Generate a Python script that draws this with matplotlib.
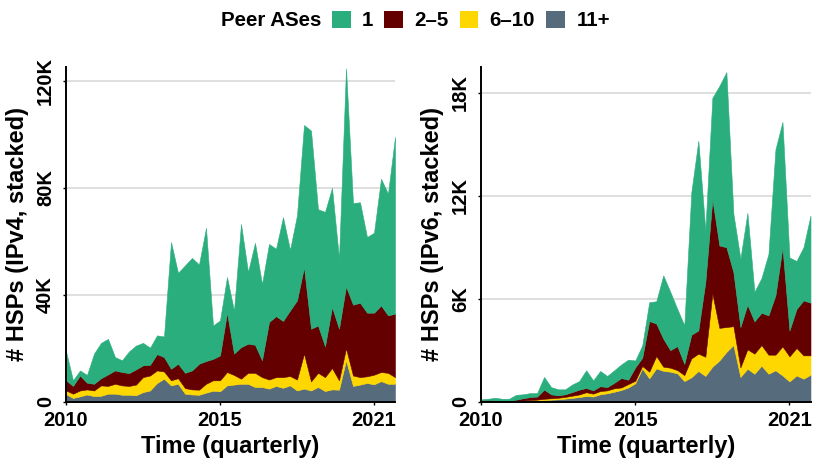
import matplotlib
matplotlib.use("Agg")
import matplotlib.pyplot as plt
from matplotlib.patches import Patch
import numpy as np

plt.rcParams['font.family'] = ['Liberation Sans', 'DejaVu Sans']
plt.rcParams['font.weight'] = 'bold'

# quarters 2010Q1 .. 2021Q4 (index positions)
quarters = list(range(48))
tick_pos = [0, 22, 44]
tick_labels = ["2010", "2015", "2021"]

categories = ["1", "2\u20135", "6\u201310", "11+"]
colors = ["#2BAE7E", "#640000", "#FFD700", "#566B7C"]

# IPv4 HSPs (thousands) per peer-AS bucket
v4_one = [10.8, 2.1, 1.9, 2.9, 11.3, 13.2, 13.3, 5.0, 4.4, 8.1, 8.9, 8.4, 6.4, 7.0, 7.7,
          47.4, 34.0, 40.2, 42.1, 37.1, 49.8, 12.5, 13.1, 13.3, 16.0, 46.1, 26.8, 38.1,
          28.5, 29.2, 25.2, 38.8, 22.7, 31.8, 53.2, 74.1, 43.5, 50.3, 44.6, 26.2, 81.6,
          38.0, 37.6, 28.3, 29.9, 47.4, 45.5, 66.1]
v4_two_five = [3.8, 2.9, 5.6, 2.5, 2.5, 2.7, 4.3, 5.0, 5.0, 4.8, 5.7, 4.4, 4.0, 6.1, 5.4,
               4.3, 5.4, 5.7, 7.1, 9.7, 8.5, 8.0, 9.3, 22.2, 8.0, 11.8, 10.9, 10.5, 6.3,
               21.5, 22.8, 21.0, 24.5, 29.6, 32.3, 19.7, 17.7, 11.5, 22.8, 19.3, 23.1,
               26.5, 27.8, 23.8, 23.2, 24.9, 21.5, 23.7]
v4_six_ten = [1.4, 1.6, 2.2, 1.9, 2.1, 3.9, 2.9, 3.7, 3.5, 3.3, 4.0, 5.6, 5.6, 4.7, 2.7,
              1.9, 2.1, 2.1, 1.9, 1.9, 3.3, 3.9, 4.1, 5.0, 3.6, 1.9, 4.1, 5.3, 3.7, 3.4,
              3.3, 4.0, 3.5, 4.1, 13.1, 3.4, 5.3, 5.2, 8.0, 3.5, 4.5, 3.9, 2.8, 2.5, 3.6,
              3.4, 4.1, 2.5]
v4_eleven = [2.8, 1.4, 2.0, 2.7, 2.1, 2.2, 3.0, 3.0, 2.6, 2.6, 2.4, 3.6, 4.2, 7.0, 8.6,
             6.1, 6.7, 3.0, 2.7, 2.6, 3.4, 4.1, 3.9, 6.1, 6.4, 6.7, 6.7, 5.5, 5.5, 4.9,
             5.9, 5.2, 6.1, 4.2, 4.9, 4.2, 5.5, 4.0, 4.6, 4.5, 15.5, 5.9, 6.4, 7.0, 6.5,
             7.7, 6.7, 6.7]

# IPv6 HSPs (thousands) per peer-AS bucket
v6_one = [0.06, 0.07, 0.15, 0.12, 0.12, 0.28, 0.23, 0.23, 0.20, 0.74, 0.42, 0.35, 0.29,
          0.44, 0.50, 1.03, 0.58, 0.89, 0.65, 0.73, 0.79, 1.17, 0.40, 0.72, 1.10, 1.30,
          3.69, 3.40, 2.16, 2.25, 8.30, 11.05, 3.03, 5.90, 9.30, 10.20, 3.40, 3.98, 5.35,
          1.72, 2.02, 3.57, 8.50, 7.30, 4.25, 2.80, 3.10, 5.08]
v6_two_five = [0.04, 0.06, 0.05, 0.02, 0.02, 0.07, 0.13, 0.17, 0.18, 0.53, 0.23, 0.14,
               0.15, 0.21, 0.28, 0.25, 0.19, 0.28, 0.19, 0.32, 0.55, 0.25, 0.78, 0.48,
               2.95, 1.89, 1.63, 1.02, 1.40, 0.65, 1.38, 1.35, 4.35, 5.50, 4.80, 4.65,
               3.15, 2.35, 2.60, 1.88, 1.88, 2.29, 3.46, 5.78, 1.51, 2.27, 3.20, 3.07]
v6_six_ten = [0.02, 0.02, 0.01, 0.01, 0.01, 0.02, 0.03, 0.05, 0.05, 0.07, 0.08, 0.09,
              0.10, 0.13, 0.15, 0.22, 0.17, 0.19, 0.17, 0.20, 0.15, 0.20, 0.15, 0.14,
              0.39, 0.72, 0.24, 0.23, 0.19, 0.35, 1.10, 1.01, 1.12, 4.26, 1.90, 1.45,
              1.10, 0.56, 1.13, 1.17, 1.20, 1.11, 0.91, 1.69, 1.46, 1.60, 1.36, 1.13]
v6_eleven = [0.02, 0.02, 0.02, 0.02, 0.02, 0.03, 0.04, 0.05, 0.07, 0.10, 0.12, 0.14,
             0.18, 0.22, 0.27, 0.33, 0.30, 0.43, 0.49, 0.58, 0.68, 0.83, 1.07, 1.94,
             1.36, 1.94, 1.80, 1.75, 1.65, 1.20, 1.42, 1.79, 1.50, 2.04, 2.40, 2.90,
             3.30, 1.44, 1.92, 1.63, 2.10, 1.63, 1.83, 1.53, 1.18, 1.53, 1.34, 1.57]

v4_yticks = [0, 40, 80, 120]
v4_ylabels = ["0", "40K", "80K", "120K"]
v6_yticks = [0, 6, 12, 18]
v6_ylabels = ["0", "6K", "12K", "18K"]

fig = plt.figure(figsize=(8.3, 4.68), dpi=100)
W, H = 830, 468
ax1 = fig.add_axes([66 / W, (H - 401.7) / H, 329 / W, 334.7 / H])
ax2 = fig.add_axes([481 / W, (H - 401.7) / H, 329.5 / W, 334.7 / H])


def draw(ax, series, yticks, ylabels, ymax, ylabel):
    # stack bottom-to-top: 11+, 6-10, 2-5, 1
    order = [3, 2, 1, 0]
    polys = ax.stackplot(quarters, *[series[k] for k in order],
                         colors=[colors[k] for k in order], linewidth=0)
    for p, k in zip(polys, order):
        p.set_edgecolor(colors[k])
        p.set_linewidth(0.4)
    ax.set_xlim(0, 47)
    ax.set_ylim(0, ymax)
    ax.set_xticks(tick_pos)
    ax.set_xticklabels(tick_labels, fontsize=14.5, fontweight='bold')
    ax.set_yticks(yticks)
    ax.set_yticklabels(ylabels, fontsize=14.5, fontweight='bold',
                       rotation=90, va='center')
    ax.tick_params(axis='both', length=2.5, width=1.0, color='black')
    ax.tick_params(axis='y', pad=5.5)
    ax.tick_params(axis='x', pad=4.5)
    ax.yaxis.grid(True, color='#d9d9d9', linewidth=1.2)
    ax.xaxis.grid(False)
    ax.set_axisbelow(True)
    for s in ['top', 'right']:
        ax.spines[s].set_visible(False)
    for s in ['left', 'bottom']:
        ax.spines[s].set_linewidth(1.4)
        ax.spines[s].set_color('black')
        ax.spines[s].set_zorder(5)
    ax.set_xlabel("Time (quarterly)", fontsize=17, fontweight='bold', labelpad=3.5)
    ax.set_ylabel(ylabel, fontsize=17, fontweight='bold', labelpad=5)


draw(ax1, [v4_one, v4_two_five, v4_six_ten, v4_eleven], v4_yticks, v4_ylabels,
     125.2, "# HSPs (IPv4, stacked)")
draw(ax2, [v6_one, v6_two_five, v6_six_ten, v6_eleven], v6_yticks, v6_ylabels,
     19.5, "# HSPs (IPv6, stacked)")

# legend
fig.text(221 / W, 1 - 20.5 / H, "Peer ASes", fontsize=14.8, fontweight='bold',
         ha='left', va='center')
handles = [Patch(facecolor=c, edgecolor='none') for c in colors]
fig.legend(handles, categories, ncol=4, loc='center left',
           bbox_to_anchor=(332 / W, 1 - 20.5 / H), frameon=False,
           prop={'size': 14.8, 'weight': 'bold'}, borderpad=0, borderaxespad=0,
           handlelength=0.9, handleheight=0.88, handletextpad=0.55,
           columnspacing=0.55)

fig.savefig("out.png", dpi=100)
